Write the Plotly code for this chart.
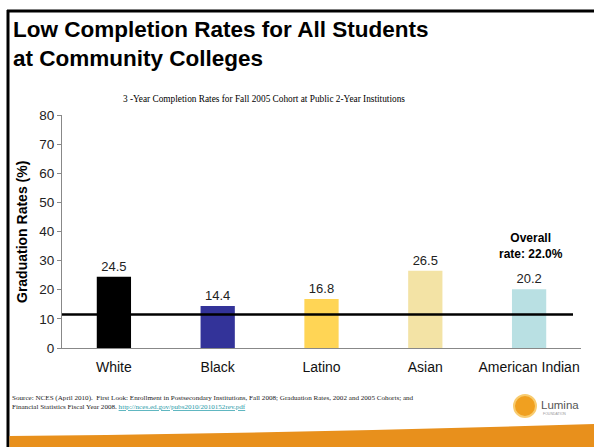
import plotly.graph_objects as go

# Completion rates by group (percent)
groups = ["White", "Black", "Latino", "Asian", "American Indian"]
rates = [24.5, 14.4, 16.8, 26.5, 20.2]
bar_colors = ["#000000", "#333399", "#FFD555", "#F3E3A5", "#B9E0E3"]
y_ticks = [0, 10, 20, 30, 40, 50, 60, 70, 80]
reference_level = 11.5

W, H = 594, 447
L, R, T, B = 62, 13, 115, 99
PW, PH = W - L - R, H - T - B


def px(x):
    return (x - L) / PW


def py(y):
    return (H - B - y) / PH


fig = go.Figure(
    go.Bar(
        x=groups,
        y=rates,
        marker=dict(color=bar_colors, line=dict(width=0)),
        width=0.33,
        text=[f"{v:.1f}" for v in rates],
        textposition="outside",
        textfont=dict(family="Liberation Sans, Arial", size=13, color="#222222"),
        cliponaxis=False,
        hoverinfo="skip",
    )
)

shapes = [
    # reference line across the bars
    dict(type="line", xref="paper", yref="y", x0=0, x1=px(573),
         y0=reference_level, y1=reference_level,
         line=dict(color="#000000", width=2.5)),
    # slide frame
    dict(type="line", xref="paper", yref="paper", x0=px(8), x1=px(8),
         y0=py(10), y1=py(H + 2), line=dict(color="#000000", width=3)),
    dict(type="line", xref="paper", yref="paper", x0=px(7), x1=px(W + 2),
         y0=py(11), y1=py(11), line=dict(color="#000000", width=3)),
    # orange footer band
    dict(type="path", xref="paper", yref="paper",
         path=(f"M {px(9.5)} {py(436)} Q {px(300)} {py(433)} {px(W)} {py(424)} "
               f"L {px(W)} {py(H + 2)} L {px(9.5)} {py(H + 2)} Z"),
         fillcolor="#E8901C", line=dict(width=0)),
    # logo mark
    dict(type="circle", xref="paper", yref="paper",
         x0=px(514), x1=px(536), y0=py(395), y1=py(417),
         fillcolor="#F0A020", line=dict(color="#F8CC70", width=2)),
]

annotations = [
    dict(text="<b>Low Completion Rates for All Students<br>at Community Colleges</b>",
         xref="paper", yref="paper", x=px(11), y=py(15), xanchor="left", yanchor="top",
         align="left", showarrow=False,
         font=dict(family="Liberation Sans, Arial", size=22.5, color="#000000")),
    dict(text="3 -Year Completion Rates for Fall 2005 Cohort at Public 2-Year Institutions",
         xref="paper", yref="paper", x=px(264), y=py(99), xanchor="center", yanchor="middle",
         showarrow=False,
         font=dict(family="Liberation Serif, Times New Roman", size=9.3, color="#000000")),
    dict(text="<b>Graduation Rates (%)</b>",
         xref="paper", yref="paper", x=px(22), y=py(232), xanchor="center", yanchor="middle",
         textangle=-90, showarrow=False,
         font=dict(family="Liberation Sans, Arial", size=14, color="#000000")),
    dict(text="<b>Overall<br>rate: 22.0%</b>",
         xref="paper", yref="paper", x=px(531), y=py(246), xanchor="center", yanchor="middle",
         showarrow=False,
         font=dict(family="Liberation Sans, Arial", size=12, color="#000000")),
    dict(text=("Source: NCES (April 2010).  First Look: Enrollment in Postsecondary Institutions, "
               "Fall 2008; Graduation Rates, 2002 and 2005 Cohorts; and<br>"
               "Financial Statistics Fiscal Year 2008. "
               "<span style='color:#1F9AA8;text-decoration:underline'>"
               "http://nces.ed.gov/pubs2010/2010152rev.pdf</span>"),
         xref="paper", yref="paper", x=px(10), y=py(402), xanchor="left", yanchor="middle",
         align="left", showarrow=False,
         font=dict(family="Liberation Serif, Times New Roman", size=7.1, color="#222222")),
    dict(text="Lumina",
         xref="paper", yref="paper", x=px(539), y=py(405), xanchor="left", yanchor="middle",
         showarrow=False,
         font=dict(family="Liberation Sans, Arial", size=11.5, color="#555555")),
    dict(text="FOUNDATION",
         xref="paper", yref="paper", x=px(541), y=py(414), xanchor="left", yanchor="middle",
         showarrow=False,
         font=dict(family="Liberation Sans, Arial", size=3.5, color="#999999")),
]

fig.update_layout(
    width=W, height=H,
    margin=dict(l=L, r=R, t=T, b=B, pad=0),
    paper_bgcolor="#FFFFFF", plot_bgcolor="#FFFFFF",
    showlegend=False,
    bargap=0.67,
    shapes=shapes,
    annotations=annotations,
    xaxis=dict(
        showline=True, linecolor="#888888", linewidth=1,
        ticks="", showgrid=False, ticklabelstandoff=6,
        tickfont=dict(family="Liberation Sans, Arial", size=14, color="#111111"),
    ),
    yaxis=dict(
        range=[0, 80], tickvals=y_ticks, showgrid=False, zeroline=False,
        showline=True, linecolor="#888888", linewidth=1,
        ticks="outside", ticklen=4, tickcolor="#888888",
        tickfont=dict(family="Liberation Sans, Arial", size=13.5, color="#222222"),
    ),
)

fig.write_html("out.html")
